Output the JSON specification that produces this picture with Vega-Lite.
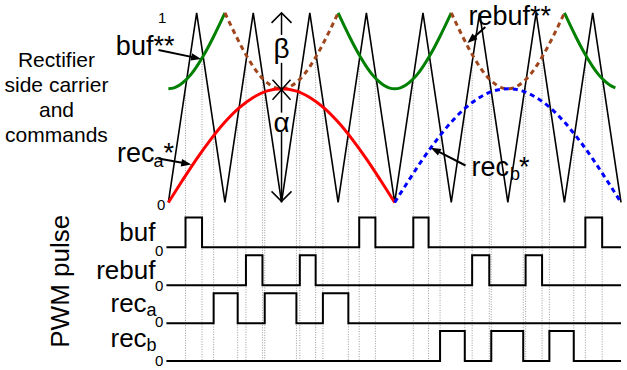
{
"$schema": "https://vega.github.io/schema/vega-lite/v6.json",
"width": 627, "height": 370,
"autosize": {"type": "fit", "contains": "padding"},
"padding": 0,
"background": "white",
"config": {"view": {"stroke": null}, "axis": {"disable": true}, "text": {"font": "Liberation Sans", "color": "black"}},
"datasets": {
"carrier": [{"t":0,"v":0},{"t":0.5,"v":1},{"t":1,"v":0},{"t":1.5,"v":1},{"t":2,"v":0},{"t":2.5,"v":1},{"t":3,"v":0},{"t":3.5,"v":1},{"t":4,"v":0},{"t":4.5,"v":1},{"t":5,"v":0},{"t":5.5,"v":1},{"t":6,"v":0},{"t":6.5,"v":1},{"t":7,"v":0},{"t":7.5,"v":1},{"t":8,"v":0}],
"rec": [
{"s":"a","t":0,"v":0},{"s":"a","t":0.25,"v":0.117},{"s":"a","t":0.5,"v":0.23},{"s":"a","t":0.75,"v":0.333},{"s":"a","t":1,"v":0.424},{"s":"a","t":1.25,"v":0.499},{"s":"a","t":1.5,"v":0.554},{"s":"a","t":1.75,"v":0.589},{"s":"a","t":2,"v":0.6},{"s":"a","t":2.25,"v":0.589},{"s":"a","t":2.5,"v":0.554},{"s":"a","t":2.75,"v":0.499},{"s":"a","t":3,"v":0.424},{"s":"a","t":3.25,"v":0.333},{"s":"a","t":3.5,"v":0.23},{"s":"a","t":3.75,"v":0.117},{"s":"a","t":4,"v":0},
{"s":"b","t":4,"v":0},{"s":"b","t":4.25,"v":0.117},{"s":"b","t":4.5,"v":0.23},{"s":"b","t":4.75,"v":0.333},{"s":"b","t":5,"v":0.424},{"s":"b","t":5.25,"v":0.499},{"s":"b","t":5.5,"v":0.554},{"s":"b","t":5.75,"v":0.589},{"s":"b","t":6,"v":0.6},{"s":"b","t":6.25,"v":0.589},{"s":"b","t":6.5,"v":0.554},{"s":"b","t":6.75,"v":0.499},{"s":"b","t":7,"v":0.424},{"s":"b","t":7.25,"v":0.333},{"s":"b","t":7.5,"v":0.23},{"s":"b","t":7.75,"v":0.117},{"s":"b","t":8,"v":0}],
"green": [
{"s":"g1","t":0,"v":0.6},{"s":"g1","t":0.1,"v":0.605},{"s":"g1","t":0.2,"v":0.62},{"s":"g1","t":0.3,"v":0.644},{"s":"g1","t":0.4,"v":0.676},{"s":"g1","t":0.5,"v":0.717},{"s":"g1","t":0.6,"v":0.765},{"s":"g1","t":0.7,"v":0.818},{"s":"g1","t":0.8,"v":0.876},{"s":"g1","t":0.9,"v":0.937},{"s":"g1","t":1,"v":1},
{"s":"g2","t":3,"v":1},{"s":"g2","t":3.1,"v":0.937},{"s":"g2","t":3.2,"v":0.876},{"s":"g2","t":3.3,"v":0.818},{"s":"g2","t":3.4,"v":0.765},{"s":"g2","t":3.5,"v":0.717},{"s":"g2","t":3.6,"v":0.676},{"s":"g2","t":3.7,"v":0.644},{"s":"g2","t":3.8,"v":0.62},{"s":"g2","t":3.9,"v":0.605},{"s":"g2","t":4,"v":0.6},{"s":"g2","t":4.1,"v":0.605},{"s":"g2","t":4.2,"v":0.62},{"s":"g2","t":4.3,"v":0.644},{"s":"g2","t":4.4,"v":0.676},{"s":"g2","t":4.5,"v":0.717},{"s":"g2","t":4.6,"v":0.765},{"s":"g2","t":4.7,"v":0.818},{"s":"g2","t":4.8,"v":0.876},{"s":"g2","t":4.9,"v":0.937},{"s":"g2","t":5,"v":1},
{"s":"g3","t":7,"v":1},{"s":"g3","t":7.1,"v":0.937},{"s":"g3","t":7.2,"v":0.876},{"s":"g3","t":7.3,"v":0.818},{"s":"g3","t":7.4,"v":0.765},{"s":"g3","t":7.5,"v":0.717},{"s":"g3","t":7.6,"v":0.676},{"s":"g3","t":7.7,"v":0.644},{"s":"g3","t":7.8,"v":0.62},{"s":"g3","t":7.9,"v":0.605}],
"brown": [
{"s":"b1","t":1,"v":1},{"s":"b1","t":1.1,"v":0.937},{"s":"b1","t":1.2,"v":0.876},{"s":"b1","t":1.3,"v":0.818},{"s":"b1","t":1.4,"v":0.765},{"s":"b1","t":1.5,"v":0.717},{"s":"b1","t":1.6,"v":0.676},{"s":"b1","t":1.7,"v":0.644},{"s":"b1","t":1.8,"v":0.62},{"s":"b1","t":1.9,"v":0.605},{"s":"b1","t":2,"v":0.6},{"s":"b1","t":2.1,"v":0.605},{"s":"b1","t":2.2,"v":0.62},{"s":"b1","t":2.3,"v":0.644},{"s":"b1","t":2.4,"v":0.676},{"s":"b1","t":2.5,"v":0.717},{"s":"b1","t":2.6,"v":0.765},{"s":"b1","t":2.7,"v":0.818},{"s":"b1","t":2.8,"v":0.876},{"s":"b1","t":2.9,"v":0.937},{"s":"b1","t":3,"v":1},
{"s":"b2","t":5,"v":1},{"s":"b2","t":5.1,"v":0.937},{"s":"b2","t":5.2,"v":0.876},{"s":"b2","t":5.3,"v":0.818},{"s":"b2","t":5.4,"v":0.765},{"s":"b2","t":5.5,"v":0.717},{"s":"b2","t":5.6,"v":0.676},{"s":"b2","t":5.7,"v":0.644},{"s":"b2","t":5.8,"v":0.62},{"s":"b2","t":5.9,"v":0.605},{"s":"b2","t":6,"v":0.6},{"s":"b2","t":6.1,"v":0.605},{"s":"b2","t":6.2,"v":0.62},{"s":"b2","t":6.3,"v":0.644},{"s":"b2","t":6.4,"v":0.676},{"s":"b2","t":6.5,"v":0.717},{"s":"b2","t":6.6,"v":0.765},{"s":"b2","t":6.7,"v":0.818},{"s":"b2","t":6.8,"v":0.876},{"s":"b2","t":6.9,"v":0.937},{"s":"b2","t":7,"v":1}],
"cross": [
{"t":0.303,"v":0.606},{"t":0.595,"v":0.81},{"t":3.373,"v":0.746},{"t":3.659,"v":0.682},{"t":4.329,"v":0.658},{"t":4.599,"v":0.802},{"t":7.37,"v":0.74},{"t":7.667,"v":0.666},
{"t":1.371,"v":0.742},{"t":1.663,"v":0.674},{"t":2.323,"v":0.646},{"t":2.603,"v":0.794},{"t":5.369,"v":0.738},{"t":5.672,"v":0.656},{"t":6.314,"v":0.628},{"t":6.605,"v":0.79},
{"t":0.8,"v":0.4},{"t":1.225,"v":0.45},{"t":1.703,"v":0.594},{"t":2.263,"v":0.526},{"t":2.731,"v":0.538},{"t":3.181,"v":0.362},
{"t":4.802,"v":0.396},{"t":5.239,"v":0.478},{"t":5.707,"v":0.586},{"t":6.272,"v":0.544},{"t":6.734,"v":0.532},{"t":7.165,"v":0.33}],
"pulse": [
{"ch":"buf","t":-0.035,"l":0},{"ch":"buf","t":0.303,"l":1},{"ch":"buf","t":0.595,"l":0},{"ch":"buf","t":3.373,"l":1},{"ch":"buf","t":3.659,"l":0},{"ch":"buf","t":4.329,"l":1},{"ch":"buf","t":4.599,"l":0},{"ch":"buf","t":7.37,"l":1},{"ch":"buf","t":7.667,"l":0},{"ch":"buf","t":8,"l":0},
{"ch":"rebuf","t":-0.035,"l":0},{"ch":"rebuf","t":1.371,"l":1},{"ch":"rebuf","t":1.663,"l":0},{"ch":"rebuf","t":2.323,"l":1},{"ch":"rebuf","t":2.603,"l":0},{"ch":"rebuf","t":5.369,"l":1},{"ch":"rebuf","t":5.672,"l":0},{"ch":"rebuf","t":6.314,"l":1},{"ch":"rebuf","t":6.605,"l":0},{"ch":"rebuf","t":8,"l":0},
{"ch":"reca","t":-0.035,"l":0},{"ch":"reca","t":0.8,"l":1},{"ch":"reca","t":1.225,"l":0},{"ch":"reca","t":1.703,"l":1},{"ch":"reca","t":2.263,"l":0},{"ch":"reca","t":2.731,"l":1},{"ch":"reca","t":3.181,"l":0},{"ch":"reca","t":8,"l":0},
{"ch":"recb","t":-0.035,"l":0},{"ch":"recb","t":4.802,"l":1},{"ch":"recb","t":5.239,"l":0},{"ch":"recb","t":5.707,"l":1},{"ch":"recb","t":6.272,"l":0},{"ch":"recb","t":6.734,"l":1},{"ch":"recb","t":7.165,"l":0},{"ch":"recb","t":8,"l":0}],
"arrows": [
{"t":-0.175,"v":0.805,"t2":0.492,"v2":0.763},
{"t":-0.175,"v":0.232,"t2":0.317,"v2":0.205},
{"t":5.602,"v":0.926,"t2":5.352,"v2":0.859},
{"t":5.252,"v":0.195,"t2":4.716,"v2":0.277}],
"vseg": [{"t":2,"v":1.0,"v2":0.884},{"t":2,"v":0.737,"v2":0.474},{"t":2,"v":0.374,"v2":0.005}],
"labBig": [{"t":-0.928,"v":0.779,"txt":"buf**"},{"t":-0.91,"v":0.211,"txt":"rec"},{"t":-0.088,"v":0.216,"txt":"*"},{"t":5.304,"v":0.937,"txt":"rebuf**"},{"t":5.357,"v":0.137,"txt":"rec"},{"t":6.197,"v":0.142,"txt":"*"}],
"labSub": [{"t":-0.263,"v":0.189,"txt":"a"},{"t":6.039,"v":0.116,"txt":"b"},{"t":-0.385,"v":-0.6,"txt":"a"},{"t":-0.385,"v":-0.784,"txt":"b"}],
"title": [{"t":-1.978,"v":0.716,"txt":"Rectifier"},{"t":-1.978,"v":0.584,"txt":"side carrier"},{"t":-1.978,"v":0.453,"txt":"and"},{"t":-1.978,"v":0.321,"txt":"commands"}],
"pwm": [{"t":-1.891,"v":-0.416,"txt":"PWM pulse"}],
"plab": [{"t":-0.228,"v":-0.205,"txt":"buf"},{"t":-0.228,"v":-0.405,"txt":"rebuf"},{"t":-0.385,"v":-0.579,"txt":"rec"},{"t":-0.385,"v":-0.763,"txt":"rec"}],
"nums": [{"t":-0.035,"v":0.974,"txt":"1"},{"t":-0.053,"v":-0.011,"txt":"0"},{"t":-0.088,"v":-0.258,"txt":"0"},{"t":-0.088,"v":-0.442,"txt":"0"},{"t":-0.088,"v":-0.632,"txt":"0"},{"t":-0.088,"v":-0.837,"txt":"0"}],
"greek": [{"t":2,"v":0.805,"txt":"β"},{"t":2,"v":0.416,"txt":"α"}]
},
"encoding": {"x": {"field": "t", "type": "quantitative", "scale": {"domain": [-2.976, 8], "nice": false, "zero": false}}},
"resolve": {"scale": {"y": "independent"}},
"layer": [
{
"encoding": {"y": {"field": "v", "type": "quantitative", "scale": {"domain": [-0.8789, 1.0684], "nice": false, "zero": false}}},
"layer": [
{"data": {"name": "cross"}, "mark": {"type": "rule", "color": "#9a9a9a", "strokeWidth": 1, "strokeDash": [1, 1.5]}, "encoding": {"y2": {"datum": -0.84}}},
{"data": {"name": "carrier"}, "mark": {"type": "line", "color": "black", "strokeWidth": 1.6}, "encoding": {}},
{"data": {"name": "green"}, "mark": {"type": "line", "color": "#008000", "strokeWidth": 3, "interpolate": "monotone"}, "encoding": {"detail": {"field": "s"}}},
{"data": {"name": "brown"}, "mark": {"type": "line", "color": "#a0461c", "strokeWidth": 3, "strokeDash": [5, 4], "interpolate": "monotone"}, "encoding": {"detail": {"field": "s"}}},
{"data": {"name": "rec"}, "transform": [{"filter": "datum.s == 'a'"}], "mark": {"type": "line", "color": "#ff0000", "strokeWidth": 3, "interpolate": "monotone"}, "encoding": {}},
{"data": {"name": "rec"}, "transform": [{"filter": "datum.s == 'b'"}], "mark": {"type": "line", "color": "#0000ff", "strokeWidth": 3, "strokeDash": [5, 4], "interpolate": "monotone"}, "encoding": {}},
{"data": {"name": "vseg"}, "mark": {"type": "rule", "color": "black", "strokeWidth": 1.5}, "encoding": {"y2": {"field": "v2"}}},
{"data": {"values": [{"t": 2, "v": 0.974}]}, "mark": {"type": "point", "shape": "M-1,0.5L0,-0.5L1,0.5", "filled": false, "stroke": "black", "strokeWidth": 1.5, "size": 400, "opacity": 1}},
{"data": {"values": [{"t": 2, "v": 0.032}]}, "mark": {"type": "point", "shape": "M-1,-0.5L0,0.5L1,-0.5", "filled": false, "stroke": "black", "strokeWidth": 1.5, "size": 400, "opacity": 1}},
{"data": {"values": [{"t": 2, "v": 0.595}]}, "mark": {"type": "point", "shape": "M-0.9,-1L0.9,1M-0.9,1L0.9,-1", "filled": false, "stroke": "black", "strokeWidth": 1.5, "size": 400, "opacity": 1}},
{"data": {"name": "arrows"}, "mark": {"type": "rule", "color": "black", "strokeWidth": 2}, "encoding": {"x2": {"field": "t2"}, "y2": {"field": "v2"}}},
{"data": {"values": [{"t": 0.492, "v": 0.763}]}, "mark": {"type": "point", "shape": "M1,0L-1,-0.75L-1,0.75Z", "filled": true, "color": "black", "size": 100, "angle": 11.8, "opacity": 1}},
{"data": {"values": [{"t": 0.317, "v": 0.205}]}, "mark": {"type": "point", "shape": "M1,0L-1,-0.75L-1,0.75Z", "filled": true, "color": "black", "size": 100, "angle": 10.3, "opacity": 1}},
{"data": {"values": [{"t": 5.352, "v": 0.859}]}, "mark": {"type": "point", "shape": "M1,0L-1,-0.75L-1,0.75Z", "filled": true, "color": "black", "size": 100, "angle": 138.4, "opacity": 1}},
{"data": {"values": [{"t": 4.716, "v": 0.277}]}, "mark": {"type": "point", "shape": "M1,0L-1,-0.75L-1,0.75Z", "filled": true, "color": "black", "size": 100, "angle": 207.2, "opacity": 1}},
{"data": {"name": "labBig"}, "mark": {"type": "text", "fontSize": 27, "align": "left", "baseline": "alphabetic"}, "encoding": {"text": {"field": "txt"}}},
{"data": {"name": "labSub"}, "mark": {"type": "text", "fontSize": 18, "align": "left", "baseline": "alphabetic"}, "encoding": {"text": {"field": "txt"}}},
{"data": {"name": "title"}, "mark": {"type": "text", "fontSize": 21, "align": "center", "baseline": "alphabetic"}, "encoding": {"text": {"field": "txt"}}},
{"data": {"name": "pwm"}, "mark": {"type": "text", "fontSize": 26, "align": "center", "baseline": "middle", "angle": 270}, "encoding": {"text": {"field": "txt"}}},
{"data": {"name": "plab"}, "mark": {"type": "text", "fontSize": 26, "align": "right", "baseline": "alphabetic"}, "encoding": {"text": {"field": "txt"}}},
{"data": {"name": "nums"}, "mark": {"type": "text", "fontSize": 15, "align": "right", "baseline": "middle"}, "encoding": {"text": {"field": "txt"}}},
{"data": {"name": "greek"}, "mark": {"type": "text", "fontSize": 28, "align": "center", "baseline": "middle"}, "encoding": {"text": {"field": "txt"}}}
]
},
{"data": {"name": "pulse"}, "transform": [{"filter": "datum.ch == 'buf'"}], "mark": {"type": "line", "color": "black", "strokeWidth": 2, "interpolate": "step-after"}, "encoding": {"y": {"field": "l", "type": "quantitative", "scale": {"domain": [-4.067, 8.267], "nice": false, "zero": false}}}},
{"data": {"name": "pulse"}, "transform": [{"filter": "datum.ch == 'rebuf'"}], "mark": {"type": "line", "color": "black", "strokeWidth": 2, "interpolate": "step-after"}, "encoding": {"y": {"field": "l", "type": "quantitative", "scale": {"domain": [-2.8, 9.533], "nice": false, "zero": false}}}},
{"data": {"name": "pulse"}, "transform": [{"filter": "datum.ch == 'reca'"}], "mark": {"type": "line", "color": "black", "strokeWidth": 2, "interpolate": "step-after"}, "encoding": {"y": {"field": "l", "type": "quantitative", "scale": {"domain": [-1.533, 10.8], "nice": false, "zero": false}}}},
{"data": {"name": "pulse"}, "transform": [{"filter": "datum.ch == 'recb'"}], "mark": {"type": "line", "color": "black", "strokeWidth": 2, "interpolate": "step-after"}, "encoding": {"y": {"field": "l", "type": "quantitative", "scale": {"domain": [-0.267, 12.067], "nice": false, "zero": false}}}}
]
}
